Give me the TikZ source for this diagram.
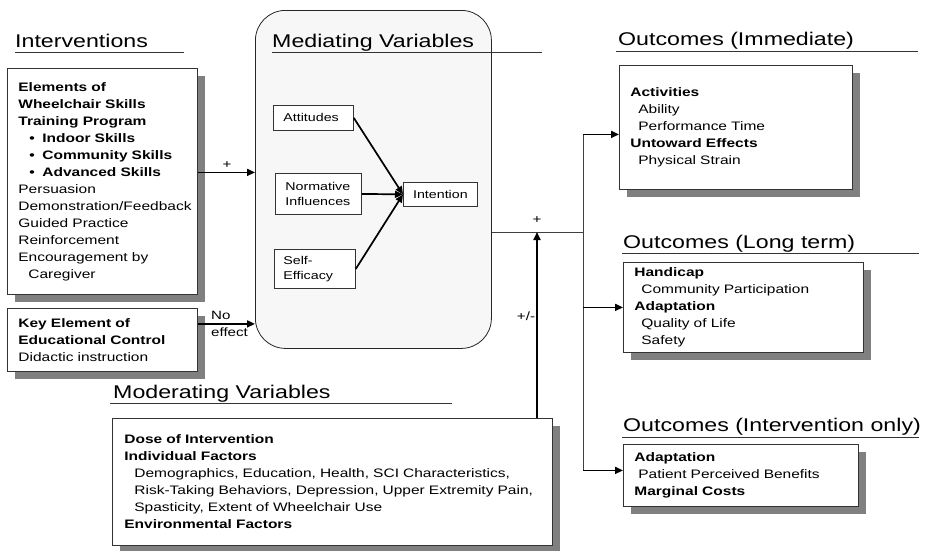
\documentclass[tikz,border=0pt]{standalone}
\usepackage{fontspec}
\setmainfont{Liberation Sans}[FakeStretch=1.26]
\usetikzlibrary{arrows.meta,shadows}
\hyphenpenalty=10000
\tikzset{
	textbox/.style={draw=black!80, line width=0.8pt, fill=white, anchor=north west, inner ysep=0pt, align=left, font=\mybodyfont, drop shadow={shadow xshift=8pt, shadow yshift=-8pt, fill=black!50, opacity=1}},
	varbox/.style={draw=black!80, line width=0.8pt, fill=white, anchor=north west, inner ysep=0pt, align=left, font=\myvarfont},
	medbox/.style={draw=black!85, line width=0.8pt, fill=black!3, rounded corners=30pt, anchor=north west},
	heading/.style={anchor=base west, inner sep=0pt, font=\myheadfont},
	lbl/.style={inner sep=0pt, font=\mylblfont},
	rule/.style={draw=black!80, line width=0.7pt},
	link/.style={draw=black!75, line width=0.7pt},
	flow/.style={-{Triangle[length=8pt,width=7pt]}, line width=1.7pt}
}
\begin{document}
\begin{tikzpicture}[x=1pt,y=-1pt]
			\newcommand{\myheadfont}{\fontsize{18.4}{22}\selectfont}
			\newcommand{\mybodyfont}{\fontsize{12.3}{17}\selectfont}
			\newcommand{\myvarfont}{\fontsize{11.3}{15}\selectfont}
			\newcommand{\mylblfont}{\fontsize{12}{17}\selectfont}
			\useasboundingbox (0,0) rectangle (935,550);
			%Headings with their rules
			\node [heading] (hint) at (15,47) {Interventions};
			\draw [rule] (15,52) -- (184,52);
			\node [heading] (hmod) at (113,398) {Moderating Variables};
			\draw [rule] (110,403) -- (452,403);
			\node [heading] (himm) at (618,45) {Outcomes (Immediate)};
			\draw [rule] (616,51) -- (918,51);
			\node [heading] (hlng) at (623,248) {Outcomes (Long term)};
			\draw [rule] (622,253) -- (919,253);
			\node [heading] (hlow) at (623,431) {Outcomes (Intervention only)};
			\draw [rule] (622,437) -- (919,437);
			%Mediating variables
			\node [medbox, minimum width=236pt, minimum height=338pt] (med) at (255,10) {};
			\node [heading] (hmed) at (272,47) {Mediating Variables};
			\draw [rule] (272,52) -- (542,52);
			\node [varbox, minimum width=80pt, minimum height=25pt, inner xsep=10pt, text width=60pt] (att) at (273,105) {Attitudes};
			\node [varbox, minimum width=86pt, minimum height=41pt, inner xsep=10pt, text width=66pt] (norm) at (275,173) {Normative\\Influences};
			\node [varbox, minimum width=81pt, minimum height=39pt, inner xsep=9pt, text width=63pt] (self) at (274,249) {Self-\\Efficacy};
			\node [varbox, minimum width=74pt, minimum height=24pt, inner xsep=0pt, text width=74pt, align=center] (int) at (403,182) {Intention};
			\draw [flow] (att.east) -- (int.west);
			\draw [flow] (norm.east) -- (int.west);
			\draw [flow] (self.east) -- (int.west);
			%Interventions
			\node [textbox, minimum width=190pt, minimum height=226pt, inner xsep=11pt, text width=168pt] (elem) at (7,68) {\textbf{Elements of}\\\textbf{Wheelchair Skills}\\\textbf{Training Program}\\\hspace*{11pt}\textbf{\makebox[13pt][l]{\textbullet}Indoor Skills}\\\hspace*{11pt}\textbf{\makebox[13pt][l]{\textbullet}Community Skills}\\\hspace*{11pt}\textbf{\makebox[13pt][l]{\textbullet}Advanced Skills}\\Persuasion\\Demonstration/Feedback\\Guided Practice\\Reinforcement\\Encouragement by\\\hspace*{10pt}Caregiver};
			\node [textbox, minimum width=190pt, minimum height=63pt, inner xsep=11pt, text width=168pt] (key) at (7,308) {\textbf{Key Element of}\\\textbf{Educational Control}\\Didactic instruction};
			%Moderating variables
			\node [textbox, minimum width=440pt, minimum height=127pt, inner xsep=12pt, text width=416pt] (mod) at (112,418) {\textbf{Dose of Intervention}\\\textbf{Individual Factors}\\\hspace*{10pt}\mbox{Demographics, Education, Health, SCI Characteristics,}\\\hspace*{10pt}\mbox{Risk-Taking Behaviors, Depression, Upper Extremity Pain,}\\\hspace*{10pt}\mbox{Spasticity, Extent of Wheelchair Use}\\\textbf{Environmental Factors}};
			%Outcomes
			\node [textbox, minimum width=233pt, minimum height=124pt, inner xsep=11pt, text width=211pt] (imm) at (619,65) {\textbf{Activities}\\\hspace*{8pt}Ability\\\hspace*{8pt}Performance Time\\\textbf{Untoward Effects}\\\hspace*{8pt}Physical Strain};
			\node [textbox, minimum width=240pt, minimum height=90pt, inner xsep=11pt, text width=218pt] (lng) at (623,262) {\textbf{Handicap}\\\hspace*{7pt}Community Participation\\\textbf{Adaptation}\\\hspace*{7pt}Quality of Life\\\hspace*{7pt}Safety};
			\node [textbox, minimum width=235pt, minimum height=62pt, inner xsep=11pt, text width=213pt] (low) at (623,444) {\textbf{Adaptation}\\\hspace*{4pt}Patient Perceived Benefits\\\textbf{Marginal Costs}};
			%Arrows into the mediating variables
			\coordinate (plusin) at ([yshift=9pt]elem.east);
			\coordinate (noin) at ([yshift=16pt]key.east);
			\draw [flow] (plusin) -- (plusin -| med.west);
			\draw [flow] (noin) -- (noin -| med.west);
			\node [lbl] (plusa) at (227,165) {+};
			\node [lbl, anchor=north west, align=left] (noeff) at (211,311) {No\\effect};
			%Junction and branches to the outcomes
			\coordinate (split) at (583,232);
			\coordinate (plus) at (537,232);
			\coordinate (immin) at ([yshift=-7pt]imm.west);
			\coordinate (lowin) at ([yshift=5pt]low.west);
			\draw [link] (split -| med.east) -- (split);
			\draw [link] (split |- immin) -- (split |- lowin);
			\draw [flow] (split |- immin) -- (immin);
			\draw [flow] (split |- lng.west) -- (lng.west);
			\draw [flow] (split |- lowin) -- (lowin);
			\draw [flow] (mod.north -| plus) -- (plus);
			\node [lbl] (plusb) at (537,220) {+};
			\node [lbl] (pm) at (526,316) {+/-};
\end{tikzpicture}
\end{document}
